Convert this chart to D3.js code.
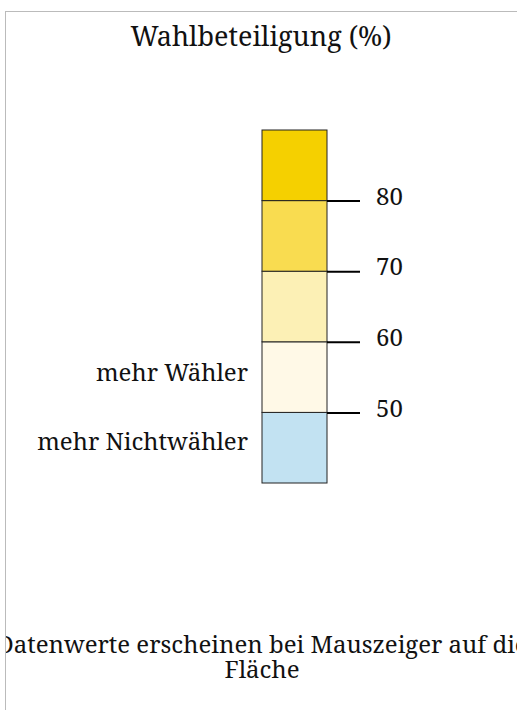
<!DOCTYPE html>
<html>
<head>
<meta charset="utf-8">
<script src="https://cdn.jsdelivr.net/npm/d3@7"></script>
<style>
  body { margin: 0; background: #fff; }
  #frame { position: absolute; left: 5px; top: 11px; width: 530px; height: 720px; border: 1px solid #bbb; overflow: hidden; }
  svg { display: block; font-family: "Noto Serif", "DejaVu Serif", serif; }
</style>
</head>
<body>
<div id="frame"></div>
<script>
// legend classes of voter turnout
var thresholds = [50, 60, 70, 80];
var bandLimits = [40, 50, 60, 70, 80, 90];
var bandColors = ["#c2e2f2", "#fff9e7", "#fcf0b5", "#f9dc50", "#f5d000"];
var sideLabels = [{text: "mehr Nichtwähler", value: 44.7}, {text: "mehr Wähler", value: 54.5}];
var title = "Wahlbeteiligung (%)";
var note = ["Datenwerte erscheinen bei Mauszeiger auf die", "Fläche"];

var width = 512, height = 710;
var svg = d3.select("#frame").append("svg").attr("width", width).attr("height", height);

var y = d3.scaleLinear().domain([40, 90]).range([471, 118]);
var barX = 256, barW = 65;

svg.append("text")
   .attr("x", 255).attr("y", 34)
   .attr("text-anchor", "middle")
   .style("font-size", "27px")
   .attr("fill", "#111")
   .text(title);

var bands = d3.range(bandColors.length).map(function(i){
  return {lo: bandLimits[i], hi: bandLimits[i+1], color: bandColors[i]};
});

svg.selectAll("rect.band")
   .data(bands)
   .enter().append("rect")
     .attr("class", "band")
     .attr("x", barX)
     .attr("y", function(d){ return y(d.hi); })
     .attr("width", barW)
     .attr("height", function(d){ return y(d.lo) - y(d.hi); })
     .attr("fill", function(d){ return d.color; })
     .attr("stroke", "#222")
     .attr("stroke-width", 1);

var axis = d3.axisRight(y).tickValues(thresholds).tickSize(33).tickPadding(16);
var ag = svg.append("g")
   .attr("transform", "translate(" + (barX + barW) + ",0)")
   .call(axis)
   .attr("font-family", null)
   .attr("font-size", null);
ag.select(".domain").remove();
ag.selectAll(".tick line").attr("stroke", "#000").attr("stroke-width", 2);
ag.selectAll(".tick text")
   .attr("dy", "0.15em")
   .style("font-size", "24px")
   .attr("fill", "#111");

svg.selectAll("text.side")
   .data(sideLabels)
   .enter().append("text")
     .attr("class", "side")
     .attr("x", 242)
     .attr("y", function(d){ return y(d.value); })
     .attr("text-anchor", "end")
     .style("font-size", "24px")
     .attr("fill", "#111")
     .text(function(d){ return d.text; });

svg.selectAll("text.note")
   .data(note)
   .enter().append("text")
     .attr("class", "note")
     .attr("x", 256)
     .attr("y", function(d, i){ return 641 + i * 25; })
     .attr("text-anchor", "middle")
     .style("font-size", "24px")
     .attr("fill", "#111")
     .text(function(d){ return d; });
</script>
</body>
</html>
